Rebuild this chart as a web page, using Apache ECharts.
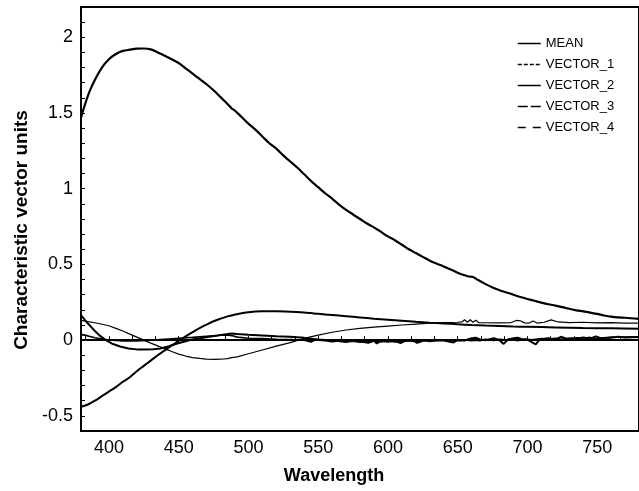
<!DOCTYPE html>
<html>
<head>
<meta charset="utf-8">
<script src="https://cdn.jsdelivr.net/npm/echarts@6/dist/echarts.min.js"></script>
<style>
  html, body { margin: 0; padding: 0; background: #fff; }
  #chart { width: 639px; height: 491px; }
</style>
</head>
<body>
<div id="chart"></div>
<script>
// axis labels
var xLabels = [400, 450, 500, 550, 600, 650, 700, 750];
var yLabels = [-0.5, 0, 0.5, 1, 1.5, 2];

// [wavelength, value]
var mean = [
  [380, 1.47], [383, 1.56], [386, 1.64], [390, 1.72], [395, 1.80], [400, 1.855], [405, 1.89],
  [410, 1.91], [415, 1.918], [420, 1.925], [425, 1.926], [430, 1.92], [435, 1.90], [440, 1.878],
  [445, 1.855], [450, 1.83], [455, 1.795], [460, 1.76], [465, 1.725], [470, 1.69], [475, 1.65],
  [480, 1.605], [485, 1.56], [488, 1.53], [490, 1.518], [495, 1.475], [500, 1.43], [505, 1.39],
  [510, 1.345], [515, 1.30], [520, 1.265], [525, 1.22], [530, 1.18], [535, 1.14], [540, 1.095],
  [545, 1.05], [550, 1.01], [555, 0.97], [560, 0.935], [565, 0.895], [570, 0.86], [575, 0.83],
  [580, 0.80], [585, 0.77], [590, 0.745], [595, 0.715], [600, 0.685], [605, 0.66], [610, 0.63],
  [615, 0.60], [620, 0.575], [625, 0.55], [630, 0.525], [635, 0.505], [640, 0.487], [645, 0.467],
  [650, 0.445], [655, 0.428], [658, 0.42], [661, 0.417], [665, 0.395], [670, 0.37], [675, 0.348],
  [680, 0.33], [685, 0.315], [690, 0.30], [695, 0.285], [700, 0.272], [705, 0.26], [710, 0.248],
  [715, 0.237], [720, 0.228], [725, 0.218], [730, 0.207], [735, 0.197], [740, 0.19], [745, 0.182],
  [750, 0.173], [755, 0.163], [760, 0.155], [765, 0.15], [770, 0.148], [780, 0.14]
];

var vector1 = [
  [380, -0.44], [385, -0.425], [390, -0.40], [395, -0.37], [400, -0.34], [405, -0.31], [410, -0.275],
  [415, -0.245], [420, -0.205], [425, -0.17], [430, -0.135], [435, -0.10], [440, -0.068], [445, -0.035],
  [450, -0.005], [455, 0.025], [460, 0.053], [465, 0.08], [470, 0.103], [475, 0.125], [480, 0.142],
  [485, 0.157], [490, 0.168], [495, 0.177], [500, 0.184], [510, 0.19], [520, 0.191], [530, 0.188],
  [540, 0.182], [550, 0.174], [560, 0.166], [570, 0.158], [580, 0.15], [590, 0.142], [600, 0.135],
  [610, 0.128], [620, 0.121], [630, 0.115], [640, 0.11], [650, 0.105], [660, 0.1], [670, 0.096],
  [680, 0.093], [690, 0.09], [700, 0.088], [720, 0.084], [740, 0.08], [760, 0.078], [780, 0.076]
];

var vector2 = [
  [380, 0.13], [385, 0.122], [390, 0.115], [395, 0.105], [400, 0.095], [405, 0.078], [410, 0.06],
  [415, 0.04], [420, 0.02], [425, 0.0], [430, -0.02], [435, -0.038], [440, -0.056], [445, -0.075],
  [450, -0.092], [455, -0.105], [460, -0.115], [465, -0.121], [470, -0.125], [475, -0.127],
  [480, -0.126], [485, -0.122], [488, -0.115], [492, -0.11], [500, -0.09], [510, -0.065],
  [520, -0.04], [530, -0.016], [540, 0.012], [550, 0.033], [560, 0.052], [570, 0.067], [580, 0.078],
  [590, 0.086], [600, 0.093], [610, 0.1], [620, 0.106], [630, 0.112], [640, 0.116], [650, 0.118],
  [653, 0.12], [655, 0.135], [657, 0.118], [659, 0.135], [661, 0.118], [663, 0.132], [665, 0.116],
  [670, 0.115], [680, 0.114], [688, 0.115], [692, 0.13], [695, 0.128], [698, 0.114], [701, 0.112],
  [704, 0.126], [707, 0.113], [712, 0.118], [717, 0.134], [722, 0.12], [730, 0.116], [740, 0.118],
  [750, 0.114], [760, 0.116], [770, 0.113], [780, 0.112]
];

var vector3 = [
  [380, 0.166], [383, 0.13], [386, 0.10], [390, 0.06], [393, 0.033], [397, 0.005], [402, -0.022],
  [408, -0.042], [414, -0.055], [420, -0.061], [426, -0.062], [432, -0.06], [437, -0.055],
  [443, -0.04], [449, -0.022], [455, -0.007], [460, 0.005], [466, 0.014], [472, 0.022], [478, 0.03],
  [483, 0.038], [488, 0.044], [492, 0.04], [500, 0.035], [510, 0.03], [520, 0.025], [530, 0.022],
  [540, 0.015], [550, 0.005], [560, -0.003], [570, -0.01], [575, -0.005], [580, -0.012], [585, -0.008],
  [590, -0.003], [592, -0.022], [595, -0.005], [600, -0.01], [605, -0.004], [609, -0.02], [612, -0.006],
  [618, -0.002], [621, -0.018], [625, -0.004], [632, 0.0], [640, -0.003], [647, -0.015], [650, 0.0],
  [655, -0.002], [660, 0.012], [663, 0.016], [666, 0.005], [670, 0.0], [676, 0.012], [680, 0.0],
  [683, -0.025], [686, 0.004], [690, 0.012], [693, 0.016], [696, 0.006], [700, 0.004], [706, -0.028],
  [709, 0.006], [715, 0.012], [720, 0.004], [724, 0.022], [728, 0.01], [735, 0.01], [740, 0.018],
  [745, 0.01], [749, 0.025], [753, 0.012], [760, 0.016], [765, 0.022], [770, 0.018], [780, 0.02]
];

var vector4 = [
  [380, 0.038], [385, 0.028], [390, 0.016], [395, 0.008], [400, 0.001], [410, -0.006], [420, -0.006],
  [430, 0.0], [440, 0.006], [450, 0.012], [460, 0.018], [470, 0.026], [480, 0.032], [485, 0.035],
  [488, 0.03], [492, 0.02], [500, 0.012], [510, 0.01], [520, 0.006], [530, 0.004], [540, 0.0],
  [545, -0.012], [548, 0.002], [555, -0.003], [560, -0.01], [565, -0.005], [570, -0.012], [575, -0.002],
  [580, -0.01], [586, -0.018], [590, -0.006], [595, -0.01], [600, -0.004], [605, -0.012], [610, -0.008],
  [615, -0.002], [620, -0.01], [625, 0.0], [630, -0.008], [635, -0.002], [640, 0.002], [645, -0.004],
  [650, 0.003], [655, 0.002], [660, -0.004], [663, 0.0], [666, -0.003], [670, 0.005], [676, -0.002],
  [680, 0.006], [686, 0.0], [690, 0.004], [693, -0.004], [698, 0.008], [703, 0.002], [710, 0.01],
  [715, 0.006], [720, 0.012], [724, 0.006], [730, 0.012], [735, 0.016], [740, 0.012], [745, 0.018],
  [749, 0.01], [755, 0.016], [760, 0.02], [770, 0.02], [780, 0.022]
];

// tick marks: 3 per 50 nm on x, every 0.1 on y
var xTicks = [];
for (var t = 400 - 50 / 3; t <= 780; t += 50 / 3) xTicks.push(+t.toFixed(3));
var yTicks = [];
for (var k = -6; k <= 22; k++) yTicks.push(+(k / 10).toFixed(1));

var font = 'Liberation Sans';
var chart = echarts.init(document.getElementById('chart'), null, { renderer: 'canvas' });

function line(name, data, width, smooth) {
  return {
    name: name, type: 'line', data: data,
    symbol: 'none', smooth: smooth || false, animation: false,
    itemStyle: { color: '#000' },
    lineStyle: { color: '#000', width: width }
  };
}

function legendItem(name, dash) {
  return {
    name: name,
    itemStyle: { opacity: 0 },
    lineStyle: { width: 1.5, color: '#000', type: dash || 'solid' }
  };
}

chart.setOption({
  animation: false,
  backgroundColor: '#fff',
  grid: {
    left: 81, top: 7, right: -18, bottom: 60,
    show: true, borderColor: '#000', borderWidth: 2
  },
  legend: {
    orient: 'vertical', left: 512, top: 32,
    itemWidth: 23, itemHeight: 14, itemGap: 8,
    textStyle: { fontFamily: font, fontSize: 13, color: '#000' },
    data: [
      legendItem('MEAN'),
      legendItem('VECTOR_1', [4, 2]),
      legendItem('VECTOR_2'),
      legendItem('VECTOR_3', [10, 3]),
      legendItem('VECTOR_4', [8, 7])
    ]
  },
  xAxis: {
    type: 'value', min: 380, max: 780,
    name: 'Wavelength', nameLocation: 'middle', nameGap: 36,
    nameTextStyle: { fontFamily: font, fontSize: 18, fontWeight: 'bold', color: '#000', padding: [0, 52, 0, 0] },
    axisLine: { show: true, lineStyle: { color: '#000', width: 2 } },
    axisTick: { show: true, inside: true, length: 4, customValues: xTicks, lineStyle: { color: '#000', width: 1 } },
    axisLabel: { customValues: xLabels, margin: 8, fontFamily: font, fontSize: 18, color: '#000' },
    splitLine: { show: false }
  },
  yAxis: {
    type: 'value', min: -0.6, max: 2.2,
    name: 'Characteristic vector units', nameLocation: 'middle', nameGap: 50,
    nameTextStyle: { fontFamily: font, fontSize: 19, fontWeight: 'bold', color: '#000', padding: [0, 22, 0, 0] },
    axisLine: { show: true, lineStyle: { color: '#000', width: 2 } },
    axisTick: { show: true, inside: true, length: 4, customValues: yTicks, lineStyle: { color: '#000', width: 1 } },
    axisLabel: { customValues: yLabels, margin: 8, fontFamily: font, fontSize: 18, color: '#000' },
    splitLine: { show: false }
  },
  series: [
    line('MEAN', mean, 2.2, 0.3),
    line('VECTOR_1', vector1, 2, 0.3),
    line('VECTOR_2', vector2, 1.2),
    line('VECTOR_3', vector3, 2),
    line('VECTOR_4', vector4, 1.6)
  ]
});
</script>
</body>
</html>
